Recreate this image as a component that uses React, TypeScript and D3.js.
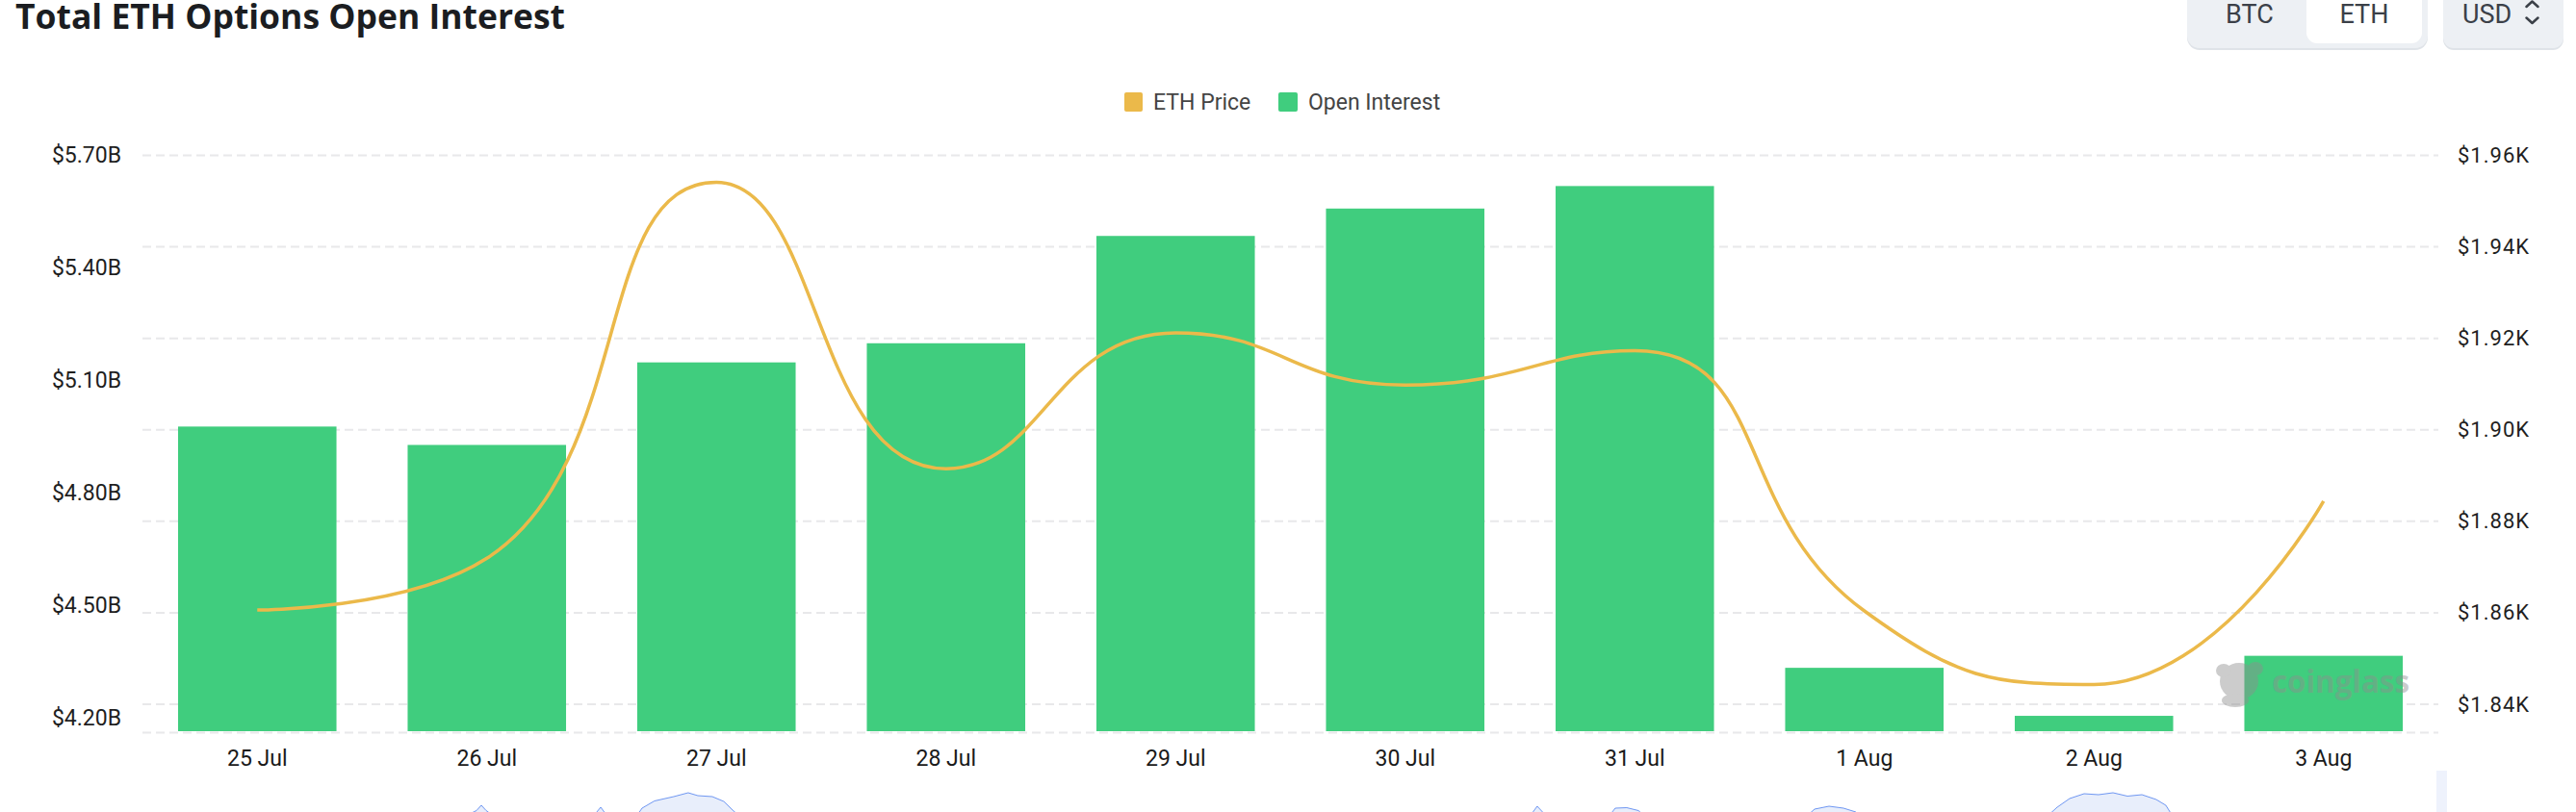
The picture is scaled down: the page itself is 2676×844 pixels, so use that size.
import React from "react";
import * as d3 from "d3";

// chart values
const dates = ["25 Jul", "26 Jul", "27 Jul", "28 Jul", "29 Jul", "30 Jul", "31 Jul", "1 Aug", "2 Aug", "3 Aug"];
const openInterest = [4.976, 4.927, 5.147, 5.198, 5.484, 5.557, 5.617, 4.333, 4.205, 4.365]; // $B
const ethPrice = [1860.6, 1871.9, 1954.1, 1891.5, 1921.2, 1909.8, 1917.3, 1860.4, 1844.3, 1884.4]; // $
const oiTicks = [4.2, 4.5, 4.8, 5.1, 5.4, 5.7];
const priceTicks = [1840, 1860, 1880, 1900, 1920, 1940, 1960];

// data-zoom sparkline peeking in at the bottom edge (position in days, height)
const sliderTimes = [
  0, 1.39, 1.455, 1.476, 1.497, 1.54, 1.958, 1.996, 2.03, 2.147, 2.176, 2.23, 2.314, 2.377, 2.419, 2.482,
  2.532, 2.566, 2.608, 6.038, 6.075, 6.122, 6.382, 6.415, 6.465, 6.516, 6.549, 7.241, 7.283, 7.346, 7.409,
  7.463, 7.492, 8.289, 8.34, 8.394, 8.457, 8.52, 8.583, 8.646, 8.709, 8.771, 8.813, 8.847, 10,
];
const sliderValues = [
  30, 40, 55, 66, 55, 40, 40, 62, 40, 40, 60, 75, 84, 92, 86, 84, 74, 58, 40, 40, 64, 40, 40, 60, 61, 55, 40,
  40, 58, 64, 60, 52, 40, 40, 62, 80, 90, 88, 92, 85, 88, 78, 66, 40, 30,
];

const width = 2676;
const height = 844;
const plot = { left: 148, right: 2533, top: 161.5, bottom: 761.5 };

const GREEN = "#40cd7e";
const ORANGE = "#ebb94a";
const FONT = "Roboto, 'Noto Sans', sans-serif";

// smooth bezier the way the original charting lib does it (smooth = 0.5, control points clamped)
function smoothPath(pts: [number, number][], smooth = 0.5) {
  const p = d3.path();
  let cpx0 = 0, cpy0 = 0, prevX = 0, prevY = 0;
  pts.forEach(([x, y], k) => {
    if (k === 0) {
      p.moveTo(x, y);
      cpx0 = x;
      cpy0 = y;
    } else {
      let cpx1 = x, cpy1 = y, nCpx0 = x, nCpy0 = y;
      if (k < pts.length - 1) {
        const [nx, ny] = pts[k + 1];
        let vx = nx - prevX, vy = ny - prevY;
        const lenPrev = Math.hypot(x - prevX, y - prevY);
        const lenNext = Math.hypot(nx - x, ny - y);
        const ratio = lenNext / (lenNext + lenPrev);
        nCpx0 = x + vx * smooth * ratio;
        nCpy0 = y + vy * smooth * ratio;
        nCpx0 = Math.max(Math.min(nCpx0, Math.max(nx, x)), Math.min(nx, x));
        nCpy0 = Math.max(Math.min(nCpy0, Math.max(ny, y)), Math.min(ny, y));
        vx = nCpx0 - x;
        vy = nCpy0 - y;
        cpx1 = x - (vx * lenPrev) / lenNext;
        cpy1 = y - (vy * lenPrev) / lenNext;
        cpx1 = Math.max(Math.min(cpx1, Math.max(prevX, x)), Math.min(prevX, x));
        cpy1 = Math.max(Math.min(cpy1, Math.max(prevY, y)), Math.min(prevY, y));
        vx = x - cpx1;
        vy = y - cpy1;
        nCpx0 = x + (vx * lenNext) / lenPrev;
        nCpy0 = y + (vy * lenNext) / lenPrev;
      }
      p.bezierCurveTo(cpx0, cpy0, cpx1, cpy1, x, y);
      cpx0 = nCpx0;
      cpy0 = nCpy0;
    }
    prevX = x;
    prevY = y;
  });
  return p.toString();
}

export default function App() {
  const x = d3
    .scaleBand<string>()
    .domain(dates)
    .range([plot.left, plot.right])
    .paddingInner(0.31)
    .paddingOuter(0.155);

  const yOI = d3.scaleLinear().domain([4.2, 5.7]).range([746, 161]);
  const yPrice = d3.scaleLinear().domain([1840, 1960]).range([732, plot.top]);

  const cx = (d: string) => (x(d) ?? 0) + x.bandwidth() / 2;

  const pricePts = ethPrice.map((v, i) => [cx(dates[i]), yPrice(v)] as [number, number]);

  const sx = d3.scaleLinear().domain([0, 10]).range([plot.left, plot.right]);
  const sy = d3.scaleLinear().domain([0, 100]).range([870, 820]);
  const sliderArea = d3
    .area<number>()
    .x((_, i) => sx(sliderTimes[i]))
    .y0(880)
    .y1((d) => sy(d));
  const sliderLine = d3
    .line<number>()
    .x((_, i) => sx(sliderTimes[i]))
    .y((d) => sy(d));

  const gridYs = [...priceTicks.map((t) => yPrice(t)), plot.bottom];

  return (
    <div style={{ position: "absolute", left: 0, top: 0 }}>
      <svg width={width} height={height} style={{ display: "block", background: "#fff" }}>
        {/* title */}
        <text
          x={16}
          y={29.5}
          fontFamily="'Open Sans', 'Noto Sans', sans-serif"
          fontWeight={700}
          fontSize={36}
          fill="#1b1d21"
          textLength={571}
          lengthAdjust="spacingAndGlyphs"
        >
          Total ETH Options Open Interest
        </text>

        {/* BTC / ETH switch */}
        <rect x={2272} y={-20} width={250} height={72} rx={13} fill="#dfe3e8" />
        <rect x={2272} y={-20} width={250} height={70} rx={13} fill="#edf0f4" />
        <rect x={2396} y={-20} width={120} height={65} rx={11} fill="#ffffff" />
        <text x={2337} y={23.5} textAnchor="middle" fontFamily={FONT} fontSize={27} fill="#3b4048">
          BTC
        </text>
        <text x={2456} y={23.5} textAnchor="middle" fontFamily={FONT} fontSize={27} fill="#3b4048">
          ETH
        </text>
        {/* currency select */}
        <rect x={2538} y={-20} width={125} height={72} rx={11} fill="#dfe3e8" />
        <rect x={2538} y={-20} width={125} height={70} rx={11} fill="#edf0f4" />
        <text x={2558} y={23.5} fontFamily={FONT} fontSize={27} fill="#3b4048">
          USD
        </text>
        <path
          d="M2624.5,7 L2630.5,1.5 L2636.5,7 M2624.5,18.5 L2630.5,24 L2636.5,18.5"
          fill="none"
          stroke="#3b4048"
          strokeWidth={2.5}
          strokeLinecap="round"
          strokeLinejoin="round"
        />

        {/* legend */}
        <rect x={1168} y={96} width={19} height={20} rx={2} fill={ORANGE} />
        <text x={1198} y={106} dominantBaseline="central" fontFamily={FONT} fontSize={23} fill="#444">
          ETH Price
        </text>
        <rect x={1328} y={96} width={20} height={20} rx={2} fill={GREEN} />
        <text x={1359} y={106} dominantBaseline="central" fontFamily={FONT} fontSize={23} fill="#444">
          Open Interest
        </text>

        {/* grid */}
        {gridYs.map((gy, i) => (
          <line
            key={i}
            x1={plot.left}
            x2={plot.right}
            y1={gy}
            y2={gy}
            stroke="#e8e8ea"
            strokeWidth={2}
            strokeDasharray="9 5"
          />
        ))}

        {/* left axis */}
        {oiTicks.map((t) => (
          <text
            key={t}
            x={126}
            y={yOI(t)}
            textAnchor="end"
            dominantBaseline="central"
            fontFamily={FONT}
            fontSize={23}
            fill="#1f1f1f"
          >
            {`$${t.toFixed(2)}B`}
          </text>
        ))}

        {/* right axis */}
        {priceTicks.map((t) => (
          <text
            key={t}
            x={2553}
            y={yPrice(t)}
            dominantBaseline="central"
            fontFamily={FONT}
            fontSize={22}
            letterSpacing={1}
            fill="#1f1f1f"
          >
            {`$${(t / 1000).toFixed(2)}K`}
          </text>
        ))}

        {/* bars */}
        {openInterest.map((v, i) => (
          <rect
            key={dates[i]}
            x={x(dates[i])}
            y={yOI(v)}
            width={x.bandwidth()}
            height={plot.bottom - 1.5 - yOI(v)}
            fill={GREEN}
          />
        ))}

        {/* watermark */}
        <g opacity={0.45} fill="#8f8f8f">
          <ellipse cx={2326} cy={708} rx={20} ry={19} />
          <ellipse cx={2310} cy={697} rx={8} ry={7} />
          <ellipse cx={2343} cy={695} rx={8} ry={7} />
          <ellipse cx={2322} cy={728} rx={14} ry={7} />
          <text
            x={2360}
            y={720}
            fontFamily="'Open Sans', sans-serif"
            fontWeight={700}
            fontSize={33}
            textLength={143}
            lengthAdjust="spacingAndGlyphs"
          >
            coinglass
          </text>
        </g>

        {/* price line */}
        <path d={smoothPath(pricePts)} fill="none" stroke={ORANGE} strokeWidth={3.5} strokeLinejoin="round" />

        {/* x labels */}
        {dates.map((d) => (
          <text key={d} x={cx(d)} y={796} textAnchor="middle" fontFamily={FONT} fontSize={23} fill="#1a1a1a">
            {d}
          </text>
        ))}

        {/* data-zoom slider remnants */}
        <path d={sliderArea(sliderValues) ?? ""} fill="#e8eefb" />
        <path d={sliderLine(sliderValues) ?? ""} fill="none" stroke="#6f97f2" strokeWidth={1} />
        <rect x={2531} y={801} width={11} height={60} fill="#eef2fc" />
      </svg>
    </div>
  );
}
